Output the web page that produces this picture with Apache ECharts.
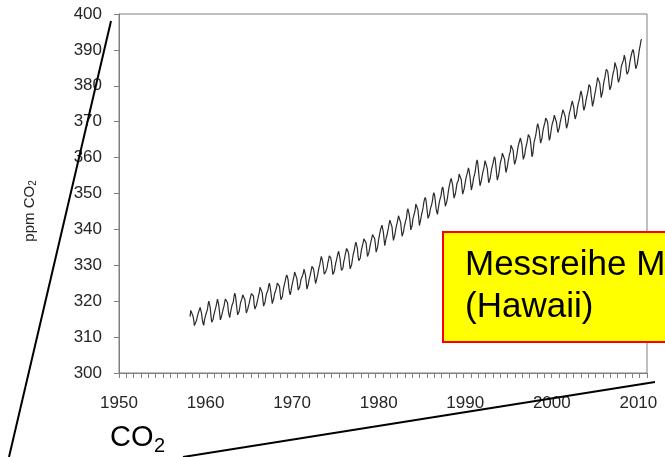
<!DOCTYPE html>
<html>
<head>
<meta charset="utf-8">
<script src="https://cdn.jsdelivr.net/npm/echarts@6/dist/echarts.min.js"></script>
<style>
html,body{margin:0;padding:0;background:#fff;}
#chart{width:665px;height:457px;}
</style>
</head>
<body>
<div id="chart"></div>
<script>
// Monthly mean CO2 at Mauna Loa (ppm)
const start1958 = [1958, 3];
const co2_1958_1959 = [315.71,317.45,317.50,317.10,315.86,314.93,313.20,312.66,313.33,314.67,
  315.62,316.38,316.71,317.72,318.29,318.15,316.54,314.80,313.84,313.26,314.80,315.58];
const start1960 = [1960, 1];
const co2_1960s = [
  316.43,316.97,317.58,319.02,320.03,319.59,318.18,315.91,314.16,313.83,315.00,316.19,
  316.93,317.70,318.54,319.48,320.58,319.77,318.57,316.79,314.80,315.38,316.10,317.01,
  317.94,318.56,319.68,320.63,321.01,320.55,319.58,317.40,316.26,315.42,316.69,317.69,
  318.74,319.08,319.86,321.39,322.25,321.47,319.74,317.77,316.21,315.99,317.12,318.31,
  319.57,320.07,320.73,321.77,322.25,321.89,320.44,318.70,316.70,316.79,317.79,318.71,
  319.44,320.44,320.89,322.13,322.16,321.87,321.39,318.81,317.81,317.30,318.87,319.42,
  320.62,321.59,322.39,323.87,324.01,323.75,322.39,320.37,318.64,318.10,319.79,321.08,
  322.07,322.50,323.04,324.42,325.00,324.09,322.55,320.92,319.31,319.31,320.72,321.96,
  322.57,323.15,323.89,325.02,325.57,325.36,324.14,322.03,320.41,320.25,321.31,322.84,
  324.00,324.42,325.64,326.66,327.34,326.76,325.88,323.67,322.38,321.78,322.85,324.11];
const start1970 = [1970, 1];
const co2_1970s = [
  325.03,325.99,326.87,328.13,328.07,327.66,326.35,324.69,323.10,323.16,323.98,325.13,
  326.17,326.68,327.18,327.78,328.92,328.57,327.34,325.46,323.36,323.57,324.80,326.01,
  326.77,327.63,327.75,329.72,330.07,329.09,328.05,326.32,324.93,325.06,326.50,327.55,
  328.54,329.56,330.30,331.50,332.48,332.07,330.87,329.31,327.51,327.18,328.16,328.64,
  329.35,330.71,331.48,332.65,333.16,332.06,330.99,329.17,327.41,327.20,328.33,329.50,
  330.68,331.41,331.85,333.29,333.91,333.40,331.78,329.88,328.57,328.46,329.26,330.97,
  331.71,332.80,333.10,334.71,334.72,333.88,333.07,330.63,328.99,328.87,330.18,331.50,
  332.80,333.22,334.54,335.82,336.45,335.97,334.65,332.40,331.28,330.73,332.05,333.54,
  334.66,335.07,336.33,337.39,337.65,337.57,336.25,334.39,332.44,332.25,333.59,334.76,
  335.89,336.44,337.63,338.54,339.06,338.95,337.41,335.71,333.68,333.69,335.05,336.53];
const start1980 = [1980, 1];
const co2_1980s = [
  337.81,338.16,339.88,340.57,341.19,340.87,339.25,337.19,335.49,336.63,337.74,338.36,
  339.44,340.33,341.57,342.56,343.01,342.47,340.71,338.52,336.96,337.13,338.58,339.89,
  340.93,341.69,342.69,343.79,344.30,343.43,341.88,339.89,338.10,338.07,339.39,340.80,
  341.57,342.52,343.10,344.94,345.76,345.32,343.98,342.38,339.87,339.99,341.15,342.99,
  343.70,344.50,345.28,347.06,347.43,346.80,345.39,343.28,341.07,341.35,342.98,344.22,
  344.97,345.99,347.42,348.35,348.93,348.25,346.56,344.67,343.09,342.80,344.24,345.56,
  346.30,346.95,347.85,349.55,350.21,349.54,347.94,345.91,344.86,344.17,345.66,346.90,
  348.02,348.47,349.42,350.99,351.84,351.25,349.52,348.10,346.44,346.36,347.81,348.96,
  350.43,351.72,352.22,353.59,354.22,353.79,352.39,350.44,348.72,348.88,350.07,351.34,
  352.76,353.07,353.68,355.42,355.67,355.13,353.90,351.67,349.80,349.99,351.30,352.53];
const start1990 = [1990, 1];
const co2_1990s = [
  353.66,354.70,355.39,356.20,357.16,356.22,354.82,352.91,350.96,351.18,352.83,354.21,
  354.72,355.75,357.16,358.60,359.34,358.24,356.17,354.03,352.16,352.21,353.75,354.99,
  355.99,356.72,357.81,359.15,359.66,359.25,357.02,355.00,353.01,353.31,354.16,355.40,
  356.70,357.16,358.38,359.46,360.28,359.60,357.57,355.52,353.70,353.98,355.33,356.80,
  358.36,358.91,359.97,361.26,361.68,360.95,359.55,357.49,355.84,356.00,357.59,359.05,
  359.98,361.03,361.66,363.48,363.82,363.30,361.94,359.50,358.11,357.80,359.61,360.74,
  362.09,363.29,364.06,364.76,365.45,365.01,363.70,361.54,359.51,359.65,360.80,362.38,
  363.23,364.06,364.61,366.40,366.84,365.68,364.52,362.57,360.24,360.83,362.49,364.34,
  365.16,365.98,367.13,368.61,369.46,368.95,367.74,365.79,364.02,364.40,365.52,367.13,
  368.18,369.07,369.68,370.99,370.96,370.30,369.45,366.90,364.81,365.37,366.72,368.10];
const start2000 = [2000, 1];
const co2_2000s = [
  369.29,369.54,370.60,371.82,371.58,371.70,369.86,368.13,367.00,367.03,368.37,369.67,
  370.59,371.51,372.43,373.37,373.85,373.21,371.51,369.61,368.18,368.45,369.76,371.24,
  372.53,373.20,374.12,375.02,375.76,375.52,374.01,371.85,370.75,370.55,372.25,373.79,
  374.88,375.64,376.45,377.73,378.60,378.28,376.70,374.38,373.17,373.15,374.66,375.99,
  377.00,377.87,378.88,380.35,380.62,379.69,377.47,376.01,374.25,374.46,376.16,377.51,
  378.46,379.73,380.77,382.29,382.45,382.21,380.74,378.74,376.70,377.00,378.35,380.11,
  381.38,382.19,382.67,384.61,385.03,384.05,382.46,380.41,378.85,379.13,380.15,381.82,
  382.89,383.90,384.58,386.50,386.56,386.10,384.50,381.99,380.96,381.12,382.45,383.95,
  385.52,385.82,386.03,387.21,388.54,387.76,386.36,384.09,383.18,382.99,384.19,385.56,
  386.94,387.48,388.82,389.55,390.14,389.48,388.03,386.11,384.74,384.43,386.02,387.42];
const start2010 = [2010, 1];
const co2_2010 = [388.71,390.20,391.17,392.46,393.00];

const xTickYears = [1950, 1960, 1970, 1980, 1990, 2000, 2010];
const yTicks = [300, 310, 320, 330, 340, 350, 360, 370, 380, 390, 400];

function toPoints(startYM, vals) {
  return vals.map((v, i) => {
    const m = startYM[1] - 1 + i;
    return [startYM[0] + (m + 0.5) / 12, v];
  });
}
const seriesData = [].concat(
  toPoints(start1958, co2_1958_1959),
  toPoints(start1960, co2_1960s),
  toPoints(start1970, co2_1970s),
  toPoints(start1980, co2_1980s),
  toPoints(start1990, co2_1990s),
  toPoints(start2000, co2_2000s),
  toPoints(start2010, co2_2010)
);

const axisGray = '#7f7f7f';
const labelFont = {fontFamily: 'Liberation Sans, Arial, sans-serif', fontSize: 17, color: '#262626'};

const chart = echarts.init(document.getElementById('chart'), null, {renderer: 'canvas'});
chart.setOption({
  animation: false,
  backgroundColor: '#ffffff',
  grid: {left: 119, top: 14, width: 528, height: 359, show: true, borderColor: axisGray, borderWidth: 1, backgroundColor: 'transparent'},
  xAxis: [{
    type: 'value', min: xTickYears[0], max: 2011, interval: 10, position: 'bottom',
    axisLine: {show: true, lineStyle: {color: axisGray, width: 1}},
    axisTick: {show: false},
    splitLine: {show: false},
    axisLabel: Object.assign({margin: 22, showMaxLabel: false,
      formatter: v => (xTickYears.indexOf(v) >= 0 ? String(v) : '')}, labelFont)
  }, {
    type: 'value', min: 0, max: 72, interval: 1, position: 'bottom',
    axisLine: {show: false},
    axisTick: {show: true, length: 5, lineStyle: {color: axisGray, width: 1}},
    axisLabel: {show: false}, splitLine: {show: false}
  }],
  yAxis: {
    type: 'value', min: yTicks[0], max: yTicks[yTicks.length - 1], interval: 10,
    axisLine: {show: true, lineStyle: {color: axisGray, width: 1}},
    axisTick: {show: true, length: 5, lineStyle: {color: axisGray, width: 1}},
    splitLine: {show: false},
    axisLabel: Object.assign({margin: 17}, labelFont)
  },
  series: [{
    type: 'line', xAxisIndex: 0, data: seriesData, showSymbol: false, symbol: 'none',
    lineStyle: {color: '#2b2b2b', width: 1.2}, silent: true
  }],
  graphic: [
    {type: 'text', rotation: Math.PI / 2, x: 30, y: 211, z: 50,
      style: {text: '{a|ppm CO}{b|2}', align: 'center', verticalAlign: 'middle',
        rich: {a: {fontFamily: 'Liberation Sans, Arial', fontSize: 15, fill: '#262626'},
               b: {fontFamily: 'Liberation Sans, Arial', fontSize: 10, fill: '#262626', padding: [7, 0, 0, 0]}}}},
    {type: 'rect', z: 60, shape: {x: 443, y: 232, width: 260, height: 110},
      style: {fill: '#ffff00', stroke: '#ff0000', lineWidth: 2}},
    {type: 'text', z: 61, x: 465, y: 265,
      style: {text: 'Messreihe Mauna Loa', fontFamily: 'Liberation Sans, Arial', fontSize: 35, fill: '#000', verticalAlign: 'middle'}},
    {type: 'text', z: 61, x: 465, y: 307,
      style: {text: '(Hawaii)', fontFamily: 'Liberation Sans, Arial', fontSize: 35, fill: '#000', verticalAlign: 'middle'}},
    {type: 'text', z: 61, x: 110, y: 438,
      style: {text: 'CO', fontFamily: 'Liberation Sans, Arial', fontSize: 29, fill: '#000', verticalAlign: 'middle'}},
    {type: 'text', z: 61, x: 154, y: 446,
      style: {text: '2', fontFamily: 'Liberation Sans, Arial', fontSize: 20, fill: '#000', verticalAlign: 'middle'}},
    {type: 'line', z: 70, shape: {x1: 111, y1: 21, x2: 9, y2: 457}, style: {stroke: '#000', lineWidth: 2}},
    {type: 'line', z: 70, shape: {x1: 183, y1: 457, x2: 655, y2: 382}, style: {stroke: '#000', lineWidth: 2}}
  ]
});
</script>
</body>
</html>
